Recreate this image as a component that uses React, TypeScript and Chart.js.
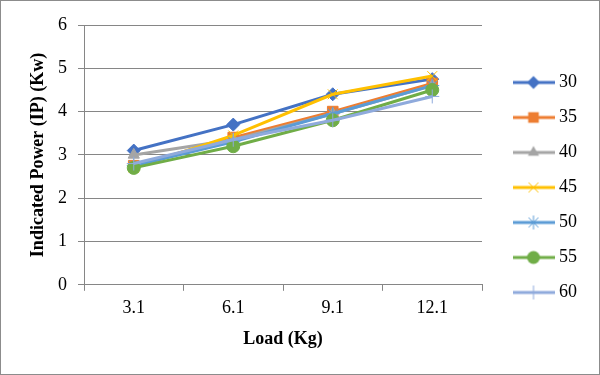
import React, { useEffect, useRef } from "react";
import { Chart, registerables } from "chart.js";

Chart.register(...registerables);

const categories = ["3.1", "6.1", "9.1", "12.1"];
const seriesNames = ["30", "35", "40", "45", "50", "55", "60"];
const s30 = [3.1, 3.7, 4.4, 4.75];
const s35 = [2.75, 3.4, 4.0, 4.65];
const s40 = [3.0, 3.35, 3.95, 4.6];
const s45 = [2.7, 3.45, 4.4, 4.82];
const s50 = [2.75, 3.3, 3.95, 4.6];
const s55 = [2.7, 3.2, 3.8, 4.5];
const s60 = [2.8, 3.35, 3.8, 4.35];
const seriesValues = [s30, s35, s40, s45, s50, s55, s60];
const colors = ["#4472C4", "#ED7D31", "#A5A5A5", "#FFC000", "#5B9BD5", "#70AD47", "#8FAADC"];
const styles: any[] = ["rectRot", "rect", "triangle", "crossRot", "star", "circle", "cross"];
const radii = [6.5, 7.5, 6.5, 7, 7, 6.5, 7];
const yTicks = [0, 1, 2, 3, 4, 5, 6];

function drawMarker(ctx: CanvasRenderingContext2D, style: string, x: number, y: number, r: number, color: string) {
  ctx.save();
  ctx.fillStyle = color;
  ctx.strokeStyle = color;
  ctx.lineWidth = 1;
  ctx.beginPath();
  if (style === "rectRot") {
    ctx.moveTo(x, y - r); ctx.lineTo(x + r, y); ctx.lineTo(x, y + r); ctx.lineTo(x - r, y); ctx.closePath(); ctx.fill();
  } else if (style === "rect") {
    const h = r * Math.SQRT1_2; ctx.rect(x - h, y - h, 2 * h, 2 * h); ctx.fill();
  } else if (style === "triangle") {
    ctx.moveTo(x, y - r); ctx.lineTo(x + r * 0.866, y + r * 0.5); ctx.lineTo(x - r * 0.866, y + r * 0.5); ctx.closePath(); ctx.fill();
  } else if (style === "circle") {
    ctx.arc(x, y, r, 0, Math.PI * 2); ctx.fill();
  } else if (style === "crossRot") {
    const h = r * Math.SQRT1_2; ctx.moveTo(x - h, y - h); ctx.lineTo(x + h, y + h); ctx.moveTo(x + h, y - h); ctx.lineTo(x - h, y + h); ctx.stroke();
  } else if (style === "star") {
    const h = r * Math.SQRT1_2; ctx.moveTo(x - h, y - h); ctx.lineTo(x + h, y + h); ctx.moveTo(x + h, y - h); ctx.lineTo(x - h, y + h);
    ctx.moveTo(x, y - r); ctx.lineTo(x, y + r); ctx.stroke();
  } else if (style === "cross") {
    ctx.moveTo(x, y - r); ctx.lineTo(x, y + r); ctx.moveTo(x - r, y); ctx.lineTo(x + r, y); ctx.stroke();
  }
  ctx.restore();
}

function legendImage(i: number) {
  const c = document.createElement("canvas");
  c.width = 42; c.height = 18;
  const ctx = c.getContext("2d")!;
  ctx.strokeStyle = colors[i];
  ctx.lineWidth = 3;
  ctx.beginPath(); ctx.moveTo(0, 9); ctx.lineTo(42, 9); ctx.stroke();
  drawMarker(ctx, styles[i], 21, 9, radii[i], colors[i]);
  return c;
}

const FONT = "Liberation Serif";

export default function App() {
  const ref = useRef<HTMLCanvasElement>(null);
  useEffect(() => {
    document.body.style.margin = "0";
    const images = seriesNames.map((_, i) => legendImage(i));
    const chart = new Chart(ref.current!, {
      type: "line",
      data: {
        labels: categories,
        datasets: seriesNames.map((n, i) => ({
          label: n,
          data: seriesValues[i],
          borderColor: colors[i],
          backgroundColor: colors[i],
          borderWidth: 3,
          pointStyle: styles[i],
          pointRadius: radii[i],
          pointBorderWidth: 1,
          pointBorderColor: colors[i],
          pointBackgroundColor: colors[i],
          tension: 0,
          order: 7 - i,
        })),
      },
      options: {
        animation: false,
        responsive: false,
        layout: { padding: { left: 0, right: 12, top: 24, bottom: 24 } },
        plugins: {
          tooltip: { enabled: false },
          legend: {
            position: "right",
            labels: {
              usePointStyle: true,
              pointStyleWidth: 33,
              padding: 17,
              color: "#000",
              font: { family: FONT, size: 18 },
              generateLabels: (ch: any) =>
                ch.data.datasets.map((d: any, i: number) => ({
                  text: d.label,
                  pointStyle: images[i],
                  fillStyle: colors[i],
                  strokeStyle: colors[i],
                  lineWidth: 0,
                  hidden: false,
                  datasetIndex: i,
                  fontColor: "#000",
                })),
            },
          },
        },
        scales: {
          x: {
            offset: true,
            grid: { offset: true, drawOnChartArea: false, drawTicks: true, tickLength: 6, color: "#868686" },
            border: { color: "#868686" },
            ticks: { color: "#000", font: { family: FONT, size: 18 }, padding: 7 },
            title: { display: true, text: "Load (Kg)", color: "#000", font: { family: FONT, size: 18, weight: "bold" }, padding: { top: 2, bottom: 0 } },
          },
          y: {
            min: 0,
            max: 6,
            afterBuildTicks: (s: any) => { s.ticks = yTicks.map((v) => ({ value: v })); },
            grid: { color: "#868686", tickLength: 6 },
            border: { color: "#868686" },
            ticks: { color: "#000", font: { family: FONT, size: 18 }, padding: 11 },
            title: { display: true, text: "Indicated Power (IP) (Kw)", color: "#000", font: { family: FONT, size: 18, weight: "bold" }, padding: { top: 27, bottom: 0 } },
            afterFit: (s: any) => { s.width = 83; },
          },
          gap: {
            type: "linear",
            position: "right",
            display: true,
            grid: { display: false },
            border: { display: false },
            ticks: { display: false },
            afterFit: (s: any) => { s.width = 18; },
          },
        },
      },
    });
    return () => chart.destroy();
  }, []);
  return (
    <div style={{ position: "absolute", left: 0, top: 0, width: 600, height: 375, boxSizing: "border-box", border: "1px solid #8c8c8c", background: "#fff" }}>
      <canvas ref={ref} width={598} height={373} style={{ display: "block" }} />
    </div>
  );
}
